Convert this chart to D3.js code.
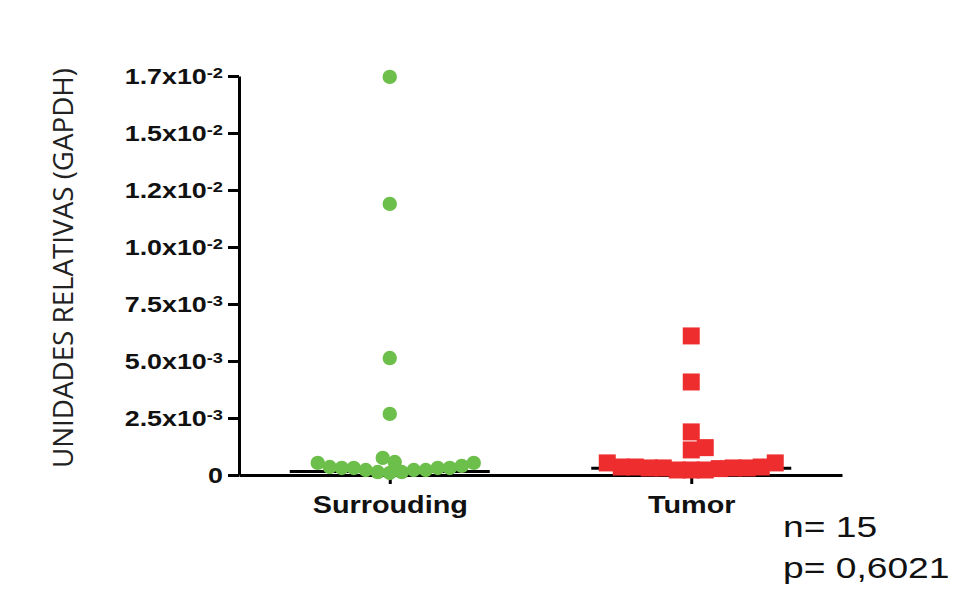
<!DOCTYPE html>
<html>
<head>
<meta charset="utf-8">
<script src="https://cdn.jsdelivr.net/npm/d3@7"></script>
<style>
  body { margin: 0; background: #fff; }
  svg { display: block; }
</style>
</head>
<body>
<div id="chart"></div>
<script>
// values (relative units, GAPDH)
const categories = ["Surrouding", "Tumor"];
const surroundingValues = [
    0.01746, 0.01189, 0.00513, 0.00268,
    0.00053, 0.00035, 0.00031, 0.00022, 0.00009, 0.00022, 0.00057, 0.00075,
    0.00053, 0.00031, 0.00013, 0.00013, 0.00022, 0.00031, 0.00031, 0.00040
];
const tumorValues = [
    0.0061, 0.00408, 0.00189, 0.0011, 0.0012,
    0.00053, 0.00022, 0.00035, 0.00031, 0.00031, 0.00028, 0.00022, 0.00035,
    0.00022, 0.00031, 0.00035, 0.00031, 0.00053
];
const medianValues = [0.00015, 0.0003];
const yTickValues = [0, 0.0025, 0.005, 0.0075, 0.01, 0.0125, 0.015, 0.0175];
const yTickMantissa = ["0", "2.5", "5.0", "7.5", "1.0", "1.2", "1.5", "1.7"];
const yTickExponent = [null, "-3", "-3", "-3", "-2", "-2", "-2", "-2"];
const yTitle = "UNIDADES RELATIVAS (GAPDH)";
const footnotes = ["n= 15", "p= 0,6021"];

const W = 954, H = 598;
const sx = 1.22; // the original figure is stretched horizontally

const svg = d3.select("#chart").append("svg")
    .attr("width", W)
    .attr("height", H);

const y = d3.scaleLinear().domain([0, 0.0175]).range([475, 76]);
const x = d3.scalePoint().domain(categories).range([239, 842]).padding(0.5);

// simple beeswarm: nearest horizontal offset that doesn't collide
function swarm(values, cx, minDist) {
    const placed = [];
    const pts = values.map(v => ({ v, py: y(v) })).sort((a, b) => a.v - b.v);
    for (const p of pts) {
        for (let k = 0; k < 1000; k++) {
            const off = (k % 2 ? 1 : -1) * Math.ceil(k / 2);
            const px = cx + off;
            const hit = placed.some(q => Math.hypot(q.px - px, q.py - p.py) < minDist);
            if (!hit) { p.px = px; break; }
        }
        placed.push(p);
    }
    return placed;
}

// y axis
const yAxis = svg.append("g")
    .attr("transform", "translate(239,0)")
    .call(d3.axisLeft(y).tickValues(yTickValues).tickSize(11).tickSizeOuter(0).tickFormat(""));
yAxis.select(".domain").attr("stroke", "#000").attr("stroke-width", 3);
yAxis.selectAll(".tick line").attr("stroke", "#000").attr("stroke-width", 3);

yAxis.selectAll(".tick").each(function (d, i) {
    const t = d3.select(this).append("text")
        .attr("x", 0)
        .attr("dy", "0.36em")
        .attr("transform", `translate(-16,0) scale(${sx},1)`)
        .attr("text-anchor", "end")
        .attr("fill", "#111")
        .attr("font-family", "Liberation Sans, Arial, sans-serif")
        .attr("font-weight", "bold")
        .attr("font-size", 22);
    t.append("tspan").text(yTickMantissa[i] + (yTickExponent[i] ? "x10" : ""));
    if (yTickExponent[i]) {
        t.append("tspan")
            .attr("dy", "-0.45em")
            .attr("font-size", 15)
            .text(yTickExponent[i]);
    }
});

// x axis
const xAxis = svg.append("g")
    .attr("transform", "translate(0,475)")
    .call(d3.axisBottom(x).tickSize(9).tickSizeOuter(0).tickFormat(""));
xAxis.select(".domain").attr("stroke", "#000").attr("stroke-width", 3);
xAxis.selectAll(".tick line").attr("stroke", "#000").attr("stroke-width", 3);

xAxis.selectAll(".tick").append("text")
    .attr("y", 38)
    .attr("transform", "scale(1.2,1)")
    .attr("text-anchor", "middle")
    .attr("fill", "#111")
    .attr("font-family", "Liberation Sans, Arial, sans-serif")
    .attr("font-weight", "bold")
    .attr("font-size", 24)
    .text(d => d);

// medians
svg.append("g").selectAll("line")
    .data(categories)
    .join("line")
    .attr("x1", d => x(d) - 100)
    .attr("x2", d => x(d) + 100)
    .attr("y1", (d, i) => y(medianValues[i]))
    .attr("y2", (d, i) => y(medianValues[i]))
    .attr("stroke", "#000")
    .attr("stroke-width", 3);

// green dots
svg.append("g").selectAll("circle")
    .data(swarm(surroundingValues, x(categories[0]), 12))
    .join("circle")
    .attr("cx", d => d.px)
    .attr("cy", d => d.py)
    .attr("r", 7.2)
    .attr("fill", "#6cbf4a");

// red squares
const side = 17;
svg.append("g").selectAll("rect")
    .data(swarm(tumorValues, x(categories[1]), 14))
    .join("rect")
    .attr("x", d => d.px - side / 2)
    .attr("y", d => d.py - side / 2)
    .attr("width", side)
    .attr("height", side)
    .attr("fill", "#ee2d2f");

// y title
svg.append("text")
    .attr("transform", "translate(73,268) rotate(-90)")
    .attr("text-anchor", "middle")
    .attr("fill", "#222")
    .attr("font-family", "Open Sans, sans-serif")
    .attr("font-size", 27)
    .attr("textLength", 400)
    .attr("lengthAdjust", "spacingAndGlyphs")
    .text(yTitle);

// n and p
svg.append("g").selectAll("text")
    .data(footnotes)
    .join("text")
    .attr("transform", (d, i) => `translate(783,${537 + i * 41}) scale(1.24,1)`)
    .attr("fill", "#111")
    .attr("font-family", "Liberation Sans, Arial, sans-serif")
    .attr("font-size", 30)
    .text(d => d);
</script>
</body>
</html>
